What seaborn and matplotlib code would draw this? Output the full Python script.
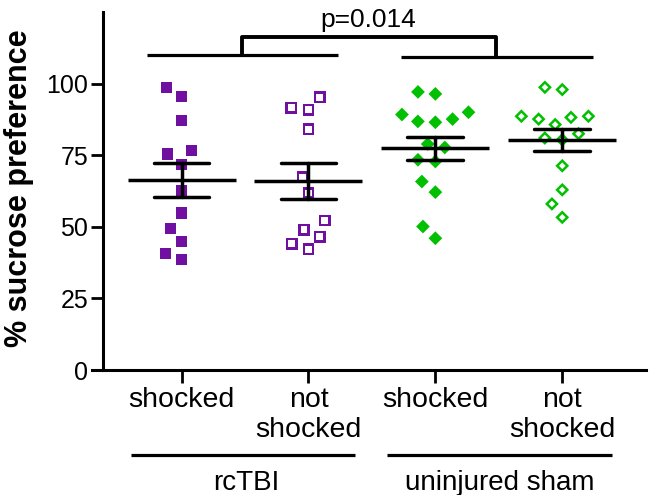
import numpy as np
import pandas as pd
import seaborn as sns
import matplotlib.pyplot as plt

# % sucrose preference per animal
tbi_shocked = [98.7, 95.6, 87.2, 76.7, 75.4, 71.9, 62.7, 54.8, 49.3, 44.9, 40.6, 38.5]
tbi_not_shocked = [95.3, 91.5, 90.9, 84.1, 67.3, 61.8, 52.2, 49.0, 46.6, 44.1, 42.2]
sham_shocked = [97.1, 96.4, 90.0, 89.2, 87.6, 86.8, 86.5, 78.9, 77.7, 73.4, 72.8,
                65.8, 62.1, 50.1, 46.0]
sham_not_shocked = [98.7, 97.9, 88.6, 88.6, 88.2, 87.6, 85.7, 82.5, 81.0, 80.4,
                    71.3, 62.9, 58.0, 53.3]

group_keys = ["tbi_s", "tbi_ns", "sham_s", "sham_ns"]
tick_labels = ["shocked", "not\nshocked", "shocked", "not\nshocked"]
injury_labels = ["rcTBI", "uninjured sham"]
p_label = "p=0.014"

purple = "#7010a0"
green = "#00c000"

df = pd.concat([
    pd.DataFrame({"group": k, "pref": v})
    for k, v in zip(group_keys, [tbi_shocked, tbi_not_shocked, sham_shocked, sham_not_shocked])
], ignore_index=True)

sns.set_style("ticks")
plt.rcParams["font.family"] = ["Liberation Sans", "DejaVu Sans"]
for key in ["text.color", "axes.labelcolor", "xtick.color", "ytick.color", "axes.edgecolor"]:
    plt.rcParams[key] = "black"

fig = plt.figure(figsize=(6.53, 4.95), dpi=100)
ax = fig.add_axes([92 / 653, 125 / 495, 554 / 653, 358 / 495])

# swarm spacing = sqrt(s) + linewidth, so the invisible edge widens the columns
spread = 12.0
styles = {
    "tbi_s": [dict(color=purple, marker="s", size=8.0)],
    "tbi_ns": [dict(color=purple, marker="s", size=8.6), dict(color="white", marker="s", size=5.0)],
    "sham_s": [dict(color=green, marker="D", size=7.0)],
    "sham_ns": [dict(color=green, marker="D", size=7.0), dict(color="white", marker="D", size=3.4)],
}
for key in group_keys:
    sub = df[df["group"] == key]
    for st in styles[key]:
        sns.swarmplot(data=sub, x="group", y="pref", order=group_keys, ax=ax,
                      color=st["color"], marker=st["marker"], size=st["size"],
                      linewidth=spread - st["size"], edgecolor="none", warn_thresh=1)

# mean +/- SEM
sns.pointplot(data=df, x="group", y="pref", order=group_keys, ax=ax,
              color="black", errorbar="se", capsize=0.44, marker="_",
              markersize=78, markeredgewidth=2.5, linestyle="none",
              err_kws={"linewidth": 2.5, "zorder": 5}, zorder=5)

ax.set_xlim(-0.706, 3.66)
ax.set_ylim(0, 125)
ax.spines["left"].set_position(("data", -0.62))
ax.spines["left"].set_linewidth(2.2)
ax.spines["bottom"].set_linewidth(2.2)
sns.despine(ax=ax)

ax.set_yticks([0, 25, 50, 75, 100])
ax.set_xticks(range(4))
ax.set_xticklabels(tick_labels, fontsize=20.5)
ax.tick_params(axis="y", labelsize=18, length=9, width=2, pad=1.5)
ax.tick_params(axis="x", length=9, width=2, pad=3)
ax.set_xlabel("")
ax.set_ylabel("% sucrose preference", fontsize=22, fontweight="bold")
ax.yaxis.set_label_coords(-0.105, 0.508)

# significance bracket
line_kw = dict(color="black", lw=2.3, clip_on=False, solid_capstyle="butt")
ax.plot([-0.27, 1.23], [110, 110], **line_kw)
ax.plot([1.73, 3.24], [109.4, 109.4], **line_kw)
ax.plot([0.48, 0.48, 2.48, 2.48], [110, 116.2, 116.2, 109.4],
        **{**line_kw, "lw": 2.8})
ax.text(1.47, 119.9, p_label, ha="center", va="baseline", fontsize=19)

# injury group underlines
ax.plot([-0.40, 1.37], [-29.7, -29.7], **line_kw)
ax.plot([1.62, 3.39], [-29.7, -29.7], **line_kw)
ax.text(0.51, -42.0, injury_labels[0], ha="center", va="baseline", fontsize=20)
ax.text(2.51, -42.0, injury_labels[1], ha="center", va="baseline", fontsize=20)

fig.savefig("out.png", dpi=100)
